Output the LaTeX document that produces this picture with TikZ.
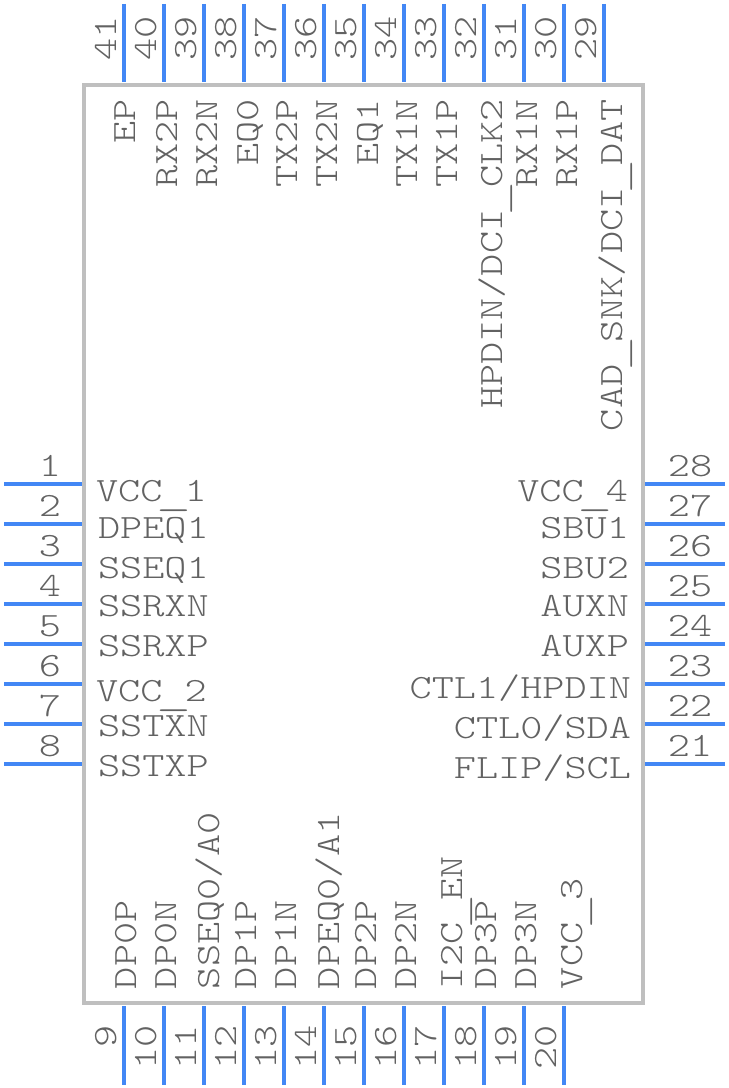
\documentclass[tikz,border=0pt]{standalone}
\usepackage{fontspec}
\setmonofont[FakeStretch=1.24]{Latin Modern Mono Light}
\definecolor{pinblue}{RGB}{66,135,245}
\definecolor{bodygray}{RGB}{191,191,191}
\definecolor{textgray}{RGB}{98,98,98}
\newcommand{\lowbar}{\makebox[0.651em][c]{\raisebox{-3pt}{\scalebox{1.6}[1]{\_}}}}
\tikzset{
    pin/.style={draw=pinblue,line width=3pt},
    body/.style={draw=bodygray,line width=3pt},
    txt/.style={text=textgray,font=\fontsize{25.5}{25.5}\selectfont\ttfamily,inner sep=0pt,outer sep=0pt},
    up/.style={txt,rotate=90}
}
\begin{document}
\begin{tikzpicture}[x=0.75pt,y=-0.75pt]
    	\useasboundingbox (0,0) rectangle (728,1088);

    	\draw[body] (84,85) rectangle (643,1003);

    	% left side
    	\foreach \n/\y/\x/\b/\lab in {1/484/96/501/VCC\lowbar 1,2/524/98/538/DPEQ1,3/564/98/578/SSEQ1,4/604/98/616/SSRXN,5/644/98/656/SSRXP,6/684/96/701/VCC\lowbar 2,7/724/98/736/SSTXN,8/764/98/776/SSTXP}{
    	\coordinate (la\n) at (4,\y);
    	\coordinate (lb\n) at (82,\y);
    	\draw[pin] (la\n) -- (lb\n);
    	\node[txt,anchor=base] (num\n) at (50,\y-8) {\n};
    	\node[txt,anchor=base west] (name\n) at (\x,\b) {\lab};
    	}

    	% right side
    	\foreach \n/\y/\x/\b/\lab in {28/484/628/501/VCC\lowbar 4,27/524/629/538/SBU1,26/564/629/578/SBU2,25/604/629/616/AUXN,24/644/629/656/AUXP,23/684/631/698/{CTL1/HPDIN},22/724/631/738/{CTL0/SDA},21/764/631/778/{FLIP/SCL}}{
    	\coordinate (ra\n) at (645,\y);
    	\coordinate (rb\n) at (725,\y);
    	\draw[pin] (ra\n) -- (rb\n);
    	\node[txt,anchor=base] (num\n) at (690,\y-8) {\n};
    	\node[txt,anchor=base east] (name\n) at (\x,\b) {\lab};
    	}

    	% top side
    	\foreach \n/\x/\b/\lab in {41/124/135/EP,40/164/177/RX2P,39/204/217/RX2N,38/244/258/EQ0,37/284/297/TX2P,36/324/337/TX2N,35/364/378/EQ1,34/404/417/TX1N,33/444/457/TX1P,32/484/502/{HPDIN/DCI\lowbar CLK2},31/524/537/RX1N,30/564/577/RX1P,29/604/622/{CAD\lowbar SNK/DCI\lowbar DAT}}{
    	\coordinate (ta\n) at (\x,4);
    	\coordinate (tb\n) at (\x,82);
    	\draw[pin] (ta\n) -- (tb\n);
    	\node[up,anchor=base east] (num\n) at (\x-8,16) {\n};
    	\node[up,anchor=base east] (name\n) at (\b,99) {\lab};
    	}

    	% bottom side
    	\foreach \n/\x/\b/\lab in {9/124/136/DP0P,10/164/176/DP0N,11/204/219/{SSEQ0/A0},12/244/256/DP1P,13/284/296/DP1N,14/324/339/{DPEQ0/A1},15/364/376/DP2P,16/404/416/DP2N,17/444/462/I2C\lowbar EN,18/484/496/DP3P,19/524/536/DP3N,20/564/582/VCC\lowbar 3}{
    	\coordinate (ba\n) at (\x,1006);
    	\coordinate (bb\n) at (\x,1085);
    	\draw[pin] (ba\n) -- (bb\n);
    	\node[up,anchor=base east] (num\n) at (\x-8,1025) {\n};
    	\node[up,anchor=base west] (name\n) at (\b,989) {\lab};
    	}

    	\end{tikzpicture}
\end{document}
